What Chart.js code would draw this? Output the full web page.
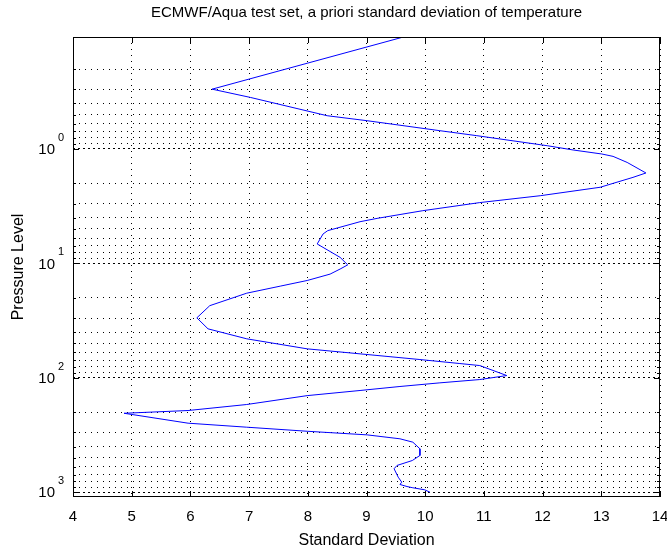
<!DOCTYPE html>
<html>
<head>
<meta charset="utf-8">
<script src="https://cdn.jsdelivr.net/npm/chart.js@4"></script>
<style>
  html, body { margin: 0; padding: 0; background: #fff; }
</style>
</head>
<body>
<canvas id="chart" width="667" height="555"></canvas>
<script>
// a priori standard deviation (x) at each pressure level (y, hPa)
const stdDev = [
  9.78, 6.37, 7.02, 8.33, 9.01, 10.25, 10.88, 12.08, 12.52, 13.01,
  13.20, 13.44, 13.76, 13.54, 12.98, 11.96, 10.93, 9.96, 9.18, 8.89,
  8.34, 8.26, 8.16, 8.55, 8.68, 8.55, 8.38, 7.99, 7.53, 6.96,
  6.33, 6.11, 6.30, 6.96, 7.99, 8.89, 9.91, 10.59, 10.93, 11.39,
  10.93, 10.25, 9.57, 8.89, 7.99, 6.96, 5.96, 4.87, 5.96, 6.96,
  7.99, 9.01, 9.57, 9.79, 9.91, 9.91, 9.78, 9.52, 9.47, 9.54,
  9.60, 9.57, 9.69, 9.79, 9.99, 10.08
];
const pressure = [
  0.1, 0.30, 0.354, 0.512, 0.566, 0.692, 0.765, 0.936, 1.02, 1.106,
  1.16, 1.31, 1.62, 1.77, 2.16, 2.56, 2.94, 3.46, 4.04, 4.32,
  5.17, 5.53, 6.76, 8.85, 10.3, 11.2, 12.4, 14.1, 15.8, 18.2,
  23.4, 29.9, 37.3, 45.6, 55.8, 61.7, 69.2, 75.0, 78.1, 95.5,
  103.5, 110.6, 119, 129, 143, 171, 193, 204, 249, 270,
  293, 315, 341, 365, 417, 477, 528, 583, 623, 738,
  816, 855, 891, 914, 951, 998
];

const xTicks = [4, 5, 6, 7, 8, 9, 10, 11, 12, 13, 14];
const yDecades = [0.1, 1, 10, 100, 1000];
const yLabels = [
  { value: 1, exp: '0' },
  { value: 10, exp: '1' },
  { value: 100, exp: '2' },
  { value: 1000, exp: '3' },
];
const yGrid = yDecades.flatMap(d => [1, 2, 3, 4, 5, 6, 7, 8, 9].map(m => +(m * d).toPrecision(3)));

const fontFamily = '"Liberation Sans", Arial, Helvetica, sans-serif';
Chart.defaults.font.family = fontFamily;
Chart.defaults.font.size = 15;
Chart.defaults.color = '#000';

// MATLAB-style box, inward tick marks and 10^n labels
const axesDecor = {
  id: 'axesDecor',
  afterDatasetsDraw(chart) {
    const { ctx, chartArea: a, scales: { x, y } } = chart;
    ctx.save();
    ctx.strokeStyle = '#000';
    ctx.lineWidth = 1;
    ctx.setLineDash([]);
    ctx.beginPath();
    xTicks.forEach(v => {
      const px = Math.round(x.getPixelForValue(v)) + 0.5;
      ctx.moveTo(px, a.bottom);
      ctx.lineTo(px, a.bottom - 6);
      ctx.moveTo(px, a.top);
      ctx.lineTo(px, a.top + 6);
    });
    y.ticks.forEach(t => {
      const py = Math.round(y.getPixelForValue(t.value)) + 0.5;
      const len = t.major ? 6 : 3;
      ctx.moveTo(a.left, py);
      ctx.lineTo(a.left + len, py);
      ctx.moveTo(a.right, py);
      ctx.lineTo(a.right - len, py);
    });
    ctx.stroke();
    ctx.strokeRect(a.left + 0.5, a.top + 0.5, a.right - a.left - 1, a.bottom - a.top - 1);

    ctx.fillStyle = '#000';
    yLabels.forEach(l => {
      const py = y.getPixelForValue(l.value);
      ctx.font = '15px ' + fontFamily;
      ctx.textAlign = 'right';
      ctx.textBaseline = 'middle';
      ctx.fillText('10', a.left - 18, py + 1);
      ctx.font = '11px ' + fontFamily;
      ctx.textAlign = 'left';
      ctx.fillText(l.exp, a.left - 15, py - 11);
    });
    ctx.restore();
  }
};

new Chart(document.getElementById('chart'), {
  type: 'scatter',
  data: {
    datasets: [{
      data: pressure.map((p, i) => ({ x: stdDev[i], y: p })),
      showLine: true,
      borderColor: '#0000ff',
      backgroundColor: '#0000ff',
      borderWidth: 1,
      pointRadius: 0,
      tension: 0,
    }],
  },
  options: {
    responsive: false,
    animation: false,
    layout: { padding: { left: 0, right: 7, top: 0, bottom: 0 } },
    plugins: {
      legend: { display: false },
      tooltip: { enabled: false },
      title: {
        display: true,
        text: 'ECMWF/Aqua test set, a priori standard deviation of temperature',
        fullSize: false,
        font: { size: 15, weight: 'normal' },
        padding: { top: 4, bottom: 15 },
      },
    },
    scales: {
      x: {
        type: 'linear',
        min: 4,
        max: 14,
        ticks: { stepSize: 1, padding: 11, maxRotation: 0 },
        grid: { color: '#000', lineWidth: 1, drawTicks: false },
        border: { display: false, dash: [1, 5] },
        title: {
          display: true,
          text: 'Standard Deviation',
          font: { size: 16 },
          padding: { top: 0, bottom: 5 },
        },
        afterFit(scale) {
          scale.height = 58;
          scale.paddingLeft = 0;
          scale.paddingRight = 0;
        },
      },
      y: {
        type: 'logarithmic',
        reverse: true,
        min: 0.105,
        max: 1100,
        ticks: { display: false },
        grid: { color: '#000', lineWidth: 1, drawTicks: false },
        border: {
          display: false,
          dash: (c) => (c.tick && c.tick.major ? [2, 3] : [1, 5]),
        },
        title: {
          display: true,
          text: 'Pressure Level',
          font: { size: 16 },
          padding: { top: 9, bottom: 0 },
        },
        afterBuildTicks(scale) {
          scale.ticks = yGrid
            .filter(v => v >= scale.min && v <= scale.max)
            .map(v => ({ value: v, major: yDecades.includes(v) }));
        },
        afterFit(scale) {
          scale.width = 73;
          scale.paddingTop = 0;
          scale.paddingBottom = 0;
        },
      },
    },
  },
  plugins: [axesDecor],
});
</script>
</body>
</html>
